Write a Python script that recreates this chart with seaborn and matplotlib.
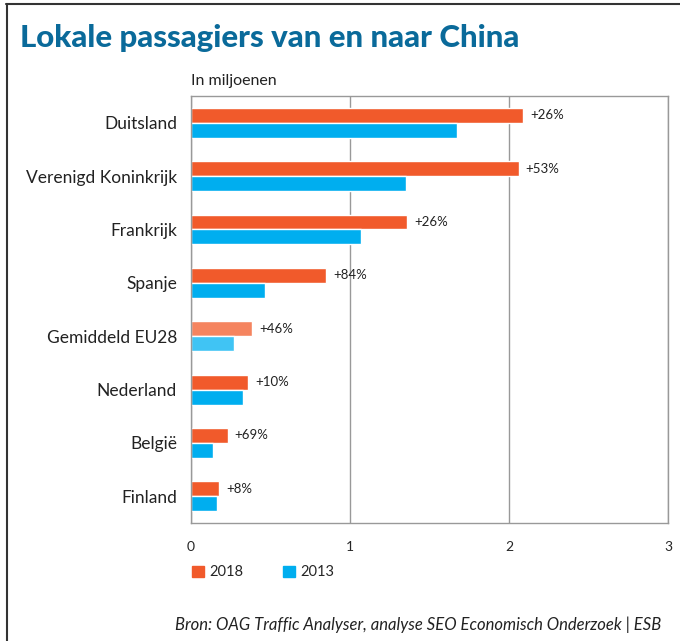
import matplotlib
matplotlib.use("Agg")
import matplotlib.pyplot as plt
import matplotlib.patches as mpatches
import matplotlib.lines as mlines
import pandas as pd
import seaborn as sns

landen = ["Duitsland", "Verenigd Koninkrijk", "Frankrijk", "Spanje",
          "Gemiddeld EU28", "Nederland", "België", "Finland"]
pax_2018 = [2.09, 2.06, 1.36, 0.85, 0.385, 0.36, 0.23, 0.175]
pax_2013 = [1.67, 1.35, 1.07, 0.465, 0.27, 0.33, 0.14, 0.165]
groei = ["+26%", "+53%", "+26%", "+84%", "+46%", "+10%", "+69%", "+8%"]

oranje = "#f15a2b"
blauw = "#00aeef"
oranje_licht = "#f5845f"
blauw_licht = "#40c4f4"

df = pd.DataFrame({
    "land": landen * 2,
    "jaar": ["2018"] * len(landen) + ["2013"] * len(landen),
    "waarde": pax_2018 + pax_2013,
})

sns.set_style("white")
plt.rcParams["font.family"] = ["Lato", "DejaVu Sans"]

fig = plt.figure(figsize=(6.8, 6.41), dpi=100)
ax = fig.add_axes([0.2809, 0.1841, 0.7015, 0.6661])

sns.barplot(data=df, y="land", x="waarde", hue="jaar", hue_order=["2018", "2013"],
            palette=[oranje, blauw], orient="h", width=0.56, ax=ax,
            legend=False, saturation=1)

# lichtere kleur voor het EU-gemiddelde
idx = landen.index("Gemiddeld EU28")
for p in ax.patches:
    cy = p.get_y() + p.get_height() / 2
    if abs(cy - idx) < 0.4:
        p.set_facecolor(oranje_licht if cy < idx else blauw_licht)

for i, (v, g) in enumerate(zip(pax_2018, groei)):
    ax.text(v + 0.045, i - 0.14, g, va="center", ha="left", fontsize=9.5, color="#222222")

ax.set_xlim(0, 3)
ax.set_ylim(len(landen) - 0.5, -0.5)
ax.set_xticks([0, 1, 2, 3])
ax.set_xticklabels(["0", "1", "2", "3"], fontsize=10)
ax.set_yticks(range(len(landen)))
ax.set_yticklabels(landen, fontsize=12.5, color="#222222")
ax.set_yticks([i + 0.5 for i in range(-1, len(landen))], minor=True)
ax.tick_params(axis="y", which="major", length=0, pad=10)
ax.tick_params(axis="y", which="minor", length=5, color="#888888", direction="out")
ax.tick_params(axis="x", length=5, color="#888888", direction="out", pad=8)
ax.set_xlabel("")
ax.set_ylabel("")
ax.xaxis.grid(True, color="#999999", linewidth=1)
ax.set_axisbelow(True)
for s in ax.spines.values():
    s.set_visible(True)
    s.set_color("#999999")
    s.set_linewidth(1)

fig.text(0.029, 0.94, "Lokale passagiers van en naar China", fontsize=22.5,
         fontweight="black", color="#0a6a9a", va="center", ha="left")
fig.text(0.281, 0.873, "In miljoenen", fontsize=11.5, color="#222222", va="center")

handles = [mpatches.Patch(color=oranje, label="2018"),
           mpatches.Patch(color=blauw, label="2013")]
fig.legend(handles=handles, loc="center left", bbox_to_anchor=(0.263, 0.107),
           ncol=2, frameon=False, fontsize=10.5, handlelength=0.8, handleheight=0.8,
           columnspacing=2.7, handletextpad=0.4)

fig.text(0.973, 0.025, "Bron: OAG Traffic Analyser, analyse SEO Economisch Onderzoek | ESB",
         fontsize=12, style="italic", color="#222222", ha="right", va="center")

fig.add_artist(mlines.Line2D([0.009, 1], [0.994, 0.994], color="#333333", linewidth=1.5))
fig.add_artist(mlines.Line2D([0.010, 0.010], [0, 0.994], color="#333333", linewidth=1.5))

fig.savefig("out.png", dpi=100)
